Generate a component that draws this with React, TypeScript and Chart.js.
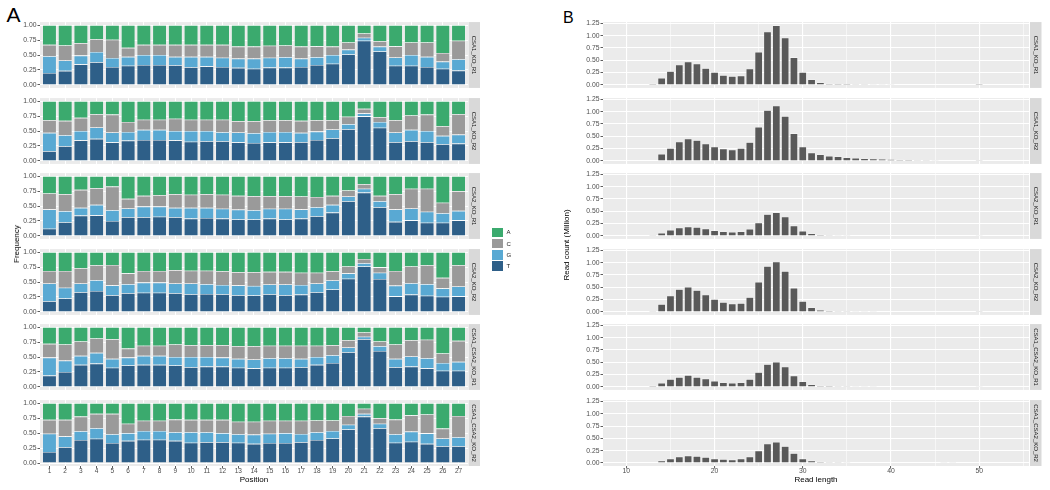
import React, { useEffect, useRef } from "react";
import { Chart, registerables } from "chart.js";
Chart.register(...registerables);

const FONT = '"Liberation Sans", Arial, Helvetica, sans-serif';

// ---------- Panel A data ----------
const positions = [1, 2, 3, 4, 5, 6, 7, 8, 9, 10, 11, 12, 13, 14, 15, 16, 17, 18, 19, 20, 21, 22, 23, 24, 25, 26, 27];
const sampleNames = ["CSA1_KO_R1", "CSA1_KO_R2", "CSA2_KO_R1", "CSA2_KO_R2", "CSA1_CSA2_KO_R1", "CSA1_CSA2_KO_R2"];
const bases = ["A", "C", "G", "T"];
const baseColors = { A: "#3BAA6E", C: "#9A9A9A", G: "#59A9D3", T: "#2E5F88" };

// cumulative boundaries: T, T+G, T+G+C (A fills up to 1)
const ko1r1T = [0.20, 0.235, 0.345, 0.38, 0.30, 0.32, 0.335, 0.335, 0.33, 0.295, 0.31, 0.30, 0.285, 0.27, 0.29, 0.29, 0.30, 0.335, 0.355, 0.51, 0.74, 0.56, 0.32, 0.32, 0.30, 0.27, 0.24];
const ko1r1TG = [0.48, 0.41, 0.49, 0.55, 0.45, 0.47, 0.50, 0.50, 0.47, 0.47, 0.47, 0.455, 0.44, 0.44, 0.455, 0.465, 0.44, 0.465, 0.50, 0.59, 0.79, 0.64, 0.46, 0.50, 0.47, 0.39, 0.43];
const ko1r1TGC = [0.67, 0.66, 0.70, 0.765, 0.755, 0.62, 0.67, 0.67, 0.67, 0.67, 0.67, 0.67, 0.64, 0.64, 0.655, 0.66, 0.64, 0.645, 0.64, 0.71, 0.86, 0.73, 0.645, 0.71, 0.71, 0.535, 0.74];

const ko1r2T = [0.165, 0.245, 0.345, 0.37, 0.31, 0.34, 0.35, 0.35, 0.345, 0.32, 0.33, 0.33, 0.31, 0.30, 0.31, 0.31, 0.315, 0.35, 0.38, 0.53, 0.745, 0.555, 0.315, 0.33, 0.315, 0.28, 0.29];
const ko1r2TG = [0.47, 0.43, 0.50, 0.56, 0.475, 0.485, 0.52, 0.52, 0.50, 0.50, 0.50, 0.48, 0.475, 0.465, 0.485, 0.485, 0.47, 0.49, 0.525, 0.615, 0.795, 0.65, 0.475, 0.52, 0.50, 0.42, 0.44];
const ko1r2TGC = [0.68, 0.67, 0.72, 0.78, 0.775, 0.65, 0.69, 0.69, 0.705, 0.69, 0.69, 0.69, 0.665, 0.665, 0.68, 0.68, 0.67, 0.68, 0.68, 0.74, 0.87, 0.73, 0.68, 0.76, 0.775, 0.58, 0.78];

const ko2r1T = [0.12, 0.23, 0.34, 0.345, 0.25, 0.315, 0.315, 0.32, 0.315, 0.29, 0.30, 0.29, 0.275, 0.275, 0.29, 0.275, 0.29, 0.33, 0.39, 0.58, 0.725, 0.48, 0.235, 0.26, 0.22, 0.22, 0.26];
const ko2r1TG = [0.445, 0.415, 0.47, 0.52, 0.43, 0.46, 0.49, 0.49, 0.47, 0.47, 0.47, 0.455, 0.44, 0.43, 0.455, 0.455, 0.445, 0.48, 0.52, 0.66, 0.79, 0.58, 0.445, 0.46, 0.405, 0.38, 0.42];
const ko2r1TGC = [0.71, 0.70, 0.77, 0.80, 0.825, 0.62, 0.67, 0.68, 0.70, 0.69, 0.70, 0.69, 0.67, 0.665, 0.665, 0.665, 0.66, 0.65, 0.67, 0.76, 0.865, 0.67, 0.70, 0.79, 0.79, 0.555, 0.75];

const ko2r2T = [0.18, 0.225, 0.33, 0.35, 0.28, 0.315, 0.32, 0.32, 0.315, 0.295, 0.30, 0.295, 0.28, 0.275, 0.295, 0.28, 0.29, 0.33, 0.375, 0.555, 0.76, 0.55, 0.26, 0.29, 0.27, 0.255, 0.26];
const ko2r2TG = [0.475, 0.405, 0.475, 0.53, 0.445, 0.465, 0.49, 0.49, 0.475, 0.475, 0.465, 0.45, 0.445, 0.435, 0.46, 0.46, 0.45, 0.475, 0.525, 0.645, 0.815, 0.655, 0.44, 0.48, 0.465, 0.395, 0.425];
const ko2r2TGC = [0.685, 0.685, 0.73, 0.78, 0.785, 0.645, 0.685, 0.685, 0.70, 0.69, 0.69, 0.68, 0.665, 0.665, 0.67, 0.67, 0.655, 0.655, 0.68, 0.76, 0.885, 0.745, 0.685, 0.76, 0.78, 0.57, 0.78];

const dkr1T = [0.19, 0.25, 0.37, 0.39, 0.32, 0.36, 0.37, 0.37, 0.36, 0.33, 0.34, 0.34, 0.32, 0.31, 0.32, 0.32, 0.33, 0.37, 0.40, 0.58, 0.80, 0.60, 0.33, 0.34, 0.31, 0.27, 0.27];
const dkr1TG = [0.49, 0.44, 0.52, 0.57, 0.47, 0.49, 0.52, 0.52, 0.50, 0.50, 0.50, 0.49, 0.47, 0.46, 0.48, 0.48, 0.47, 0.50, 0.53, 0.66, 0.84, 0.68, 0.47, 0.51, 0.48, 0.40, 0.42];
const dkr1TGC = [0.72, 0.71, 0.76, 0.81, 0.80, 0.64, 0.69, 0.69, 0.71, 0.70, 0.70, 0.70, 0.68, 0.68, 0.69, 0.69, 0.69, 0.69, 0.70, 0.78, 0.91, 0.76, 0.71, 0.78, 0.79, 0.56, 0.77];

const dkr2T = [0.185, 0.265, 0.385, 0.405, 0.335, 0.37, 0.39, 0.39, 0.37, 0.34, 0.35, 0.35, 0.34, 0.32, 0.335, 0.335, 0.35, 0.385, 0.41, 0.56, 0.775, 0.58, 0.34, 0.355, 0.32, 0.28, 0.28];
const dkr2TG = [0.49, 0.445, 0.53, 0.58, 0.48, 0.50, 0.535, 0.535, 0.515, 0.515, 0.515, 0.50, 0.48, 0.475, 0.49, 0.50, 0.485, 0.515, 0.535, 0.64, 0.82, 0.655, 0.48, 0.525, 0.495, 0.41, 0.43];
const dkr2TGC = [0.72, 0.72, 0.775, 0.82, 0.82, 0.655, 0.705, 0.705, 0.725, 0.72, 0.72, 0.72, 0.69, 0.69, 0.705, 0.705, 0.705, 0.71, 0.71, 0.785, 0.905, 0.75, 0.725, 0.795, 0.81, 0.575, 0.785];

const freqFacets = [
  { T: ko1r1T, TG: ko1r1TG, TGC: ko1r1TGC },
  { T: ko1r2T, TG: ko1r2TG, TGC: ko1r2TGC },
  { T: ko2r1T, TG: ko2r1TG, TGC: ko2r1TGC },
  { T: ko2r2T, TG: ko2r2TG, TGC: ko2r2TGC },
  { T: dkr1T, TG: dkr1TG, TGC: dkr1TGC },
  { T: dkr2T, TG: dkr2TG, TGC: dkr2TGC },
];
const freqTicks = [0, 0.125, 0.25, 0.375, 0.5, 0.625, 0.75, 0.875, 1];

// ---------- Panel B data (read count, millions) ----------
const readLengths = [13, 14, 15, 16, 17, 18, 19, 20, 21, 22, 23, 24, 25, 26, 27, 28, 29, 30, 31, 32, 33, 34, 35, 36, 37, 38, 39, 40, 41, 42, 43, 44, 45, 46, 47, 48, 49, 50];
const countsKo1r1 = [0.03, 0.14, 0.28, 0.41, 0.47, 0.43, 0.34, 0.26, 0.20, 0.18, 0.19, 0.33, 0.67, 1.08, 1.21, 0.96, 0.56, 0.26, 0.11, 0.05, 0.03, 0.025, 0.022, 0.02, 0.018, 0.016, 0.014, 0.012, 0.011, 0.01, 0.009, 0.008, 0.007, 0.006, 0.005, 0, 0, 0.03];
const countsKo1r2 = [0.01, 0.14, 0.26, 0.39, 0.45, 0.42, 0.35, 0.29, 0.25, 0.23, 0.26, 0.38, 0.69, 1.03, 1.12, 0.91, 0.56, 0.29, 0.17, 0.13, 0.10, 0.09, 0.07, 0.06, 0.05, 0.045, 0.04, 0.035, 0.03, 0.025, 0.02, 0.017, 0.014, 0.01, 0.008, 0.005, 0, 0.02];
const countsKo2r1 = [0.02, 0.06, 0.12, 0.17, 0.19, 0.18, 0.15, 0.11, 0.09, 0.08, 0.09, 0.14, 0.27, 0.44, 0.48, 0.39, 0.21, 0.10, 0.05, 0.03, 0.02, 0.015, 0.012, 0.01, 0.009, 0.008, 0.007, 0.006, 0.005, 0.005, 0.004, 0.004, 0.003, 0.003, 0.002, 0, 0, 0.015];
const countsKo2r2 = [0.02, 0.16, 0.33, 0.46, 0.51, 0.44, 0.35, 0.26, 0.20, 0.17, 0.18, 0.30, 0.61, 0.93, 1.02, 0.83, 0.49, 0.22, 0.09, 0.04, 0.03, 0.02, 0.018, 0.016, 0.014, 0.012, 0.011, 0.01, 0.009, 0.008, 0.007, 0.006, 0.005, 0.004, 0.003, 0, 0, 0.02];
const countsDkr1 = [0.03, 0.08, 0.16, 0.20, 0.24, 0.20, 0.17, 0.12, 0.09, 0.08, 0.09, 0.16, 0.30, 0.46, 0.51, 0.41, 0.23, 0.11, 0.05, 0.03, 0.025, 0.02, 0.018, 0.016, 0.014, 0.012, 0.011, 0.01, 0.009, 0.008, 0.007, 0.006, 0.005, 0.004, 0.003, 0, 0, 0.015];
const countsDkr2 = [0.01, 0.05, 0.09, 0.13, 0.15, 0.14, 0.12, 0.09, 0.08, 0.07, 0.09, 0.13, 0.25, 0.39, 0.43, 0.34, 0.20, 0.09, 0.05, 0.03, 0.02, 0.018, 0.016, 0.014, 0.012, 0.011, 0.01, 0.009, 0.008, 0.007, 0.006, 0.005, 0.005, 0.004, 0.003, 0, 0, 0.01];
const countFacets = [countsKo1r1, countsKo1r2, countsKo2r1, countsKo2r2, countsDkr1, countsDkr2];
const lengthTicks = [10, 15, 20, 25, 30, 35, 40, 45, 50, 55];
const countTicks = [0, 0.125, 0.25, 0.375, 0.5, 0.625, 0.75, 0.875, 1, 1.125, 1.25];

// ---------- layout ----------
const FACET_TOP0 = 22;
const FACET_STEP = 75.5;
const FACET_H = 66;
const PAD = 5;
const XAXIS_H = 16;

const panelBg = {
  id: "panelBg",
  beforeDraw(chart: any) {
    const { ctx, chartArea: a } = chart;
    ctx.save();
    ctx.fillStyle = "#EBEBEB";
    ctx.fillRect(a.left, a.top, a.right - a.left, a.bottom - a.top);
    ctx.restore();
  },
};

const stripPlugin = {
  id: "strip",
  afterDraw(chart: any, _args: any, opts: any) {
    const { ctx, chartArea: a } = chart;
    const x0 = a.right + opts.gap;
    ctx.save();
    ctx.fillStyle = "#D9D9D9";
    ctx.fillRect(x0, a.top, opts.width, a.bottom - a.top);
    ctx.translate(x0 + opts.width / 2, (a.top + a.bottom) / 2);
    ctx.rotate(Math.PI / 2);
    ctx.fillStyle = "#1A1A1A";
    ctx.font = `6px ${FONT}`;
    ctx.textAlign = "center";
    ctx.textBaseline = "middle";
    ctx.fillText(opts.label, 0, 0.5);
    ctx.restore();
  },
};

const isMult = (v: number, step: number) => Math.abs(v / step - Math.round(v / step)) < 1e-6;

function freqConfig(i: number) {
  const f = freqFacets[i];
  const last = i === 5;
  const seg: Record<string, number[]> = {
    T: f.T,
    G: f.TG.map((v, k) => v - f.T[k]),
    C: f.TGC.map((v, k) => v - f.TG[k]),
    A: f.TGC.map((v) => 1 - v),
  };
  const order = ["T", "G", "C", "A"];
  return {
    type: "bar",
    data: {
      datasets: order.map((b) => ({
        label: b,
        data: positions.map((p, k) => ({ x: p, y: seg[b][k] })),
        backgroundColor: (baseColors as any)[b],
        borderColor: "rgba(255,255,255,0.75)",
        borderWidth: 0.6,
        barPercentage: 0.9,
        categoryPercentage: 1,
      })),
    },
    options: {
      animation: false,
      responsive: false,
      events: [],
      layout: { padding: { left: 0, right: 13, top: PAD, bottom: last ? 0 : PAD } },
      plugins: {
        legend: { display: false },
        tooltip: { enabled: false },
        strip: { label: sampleNames[i], gap: 0.5, width: 11.5 },
      },
      scales: {
        x: {
          type: "linear",
          stacked: true,
          offset: false,
          min: 0.4,
          max: 27.6,
          afterBuildTicks: (s: any) => {
            s.ticks = positions.map((v) => ({ value: v }));
          },
          afterFit: (s: any) => {
            s.height = last ? XAXIS_H : 0;
          },
          border: { display: false },
          grid: { offset: false, color: "#FFFFFF", lineWidth: 1, drawTicks: last, tickLength: 2.5, tickColor: "#333333", tickWidth: 0.8 },
          ticks: {
            display: last,
            autoSkip: false,
            maxRotation: 0,
            padding: -0.5,
            color: "#4D4D4D",
            font: { family: FONT, size: 6.5, lineHeight: 1 },
            callback: (v: any) => String(v),
          },
        },
        y: {
          stacked: true,
          min: -0.05,
          max: 1.05,
          afterBuildTicks: (s: any) => {
            s.ticks = freqTicks.map((v) => ({ value: v }));
          },
          afterFit: (s: any) => {
            s.width = 40;
          },
          border: { display: false },
          grid: {
            color: "#FFFFFF",
            lineWidth: (c: any) => (c.tick && isMult(c.tick.value, 0.25) ? 1 : 0.5),
            tickColor: (c: any) => (c.tick && isMult(c.tick.value, 0.25) ? "#333333" : "rgba(0,0,0,0)"),
            tickLength: 2.5,
            tickWidth: 0.8,
          },
          ticks: {
            padding: 1,
            color: "#4D4D4D",
            font: { family: FONT, size: 6.8 },
            callback: (v: any) => (isMult(v, 0.25) ? Number(v).toFixed(2) : ""),
          },
        },
      },
    },
    plugins: [panelBg, stripPlugin],
  };
}

function countConfig(i: number) {
  const last = i === 5;
  const counts = countFacets[i];
  return {
    type: "bar",
    data: {
      datasets: [
        {
          label: sampleNames[i],
          data: readLengths.map((x, k) => ({ x, y: counts[k] })),
          backgroundColor: "#595959",
          borderColor: "rgba(255,255,255,0.7)",
          borderWidth: 0.6,
          barPercentage: 0.9,
          categoryPercentage: 1,
        },
      ],
    },
    options: {
      animation: false,
      responsive: false,
      events: [],
      layout: { padding: { left: 0, right: 14, top: PAD, bottom: last ? 0 : PAD } },
      plugins: {
        legend: { display: false },
        tooltip: { enabled: false },
        strip: { label: sampleNames[i], gap: 1, width: 11.5 },
      },
      scales: {
        x: {
          type: "linear",
          offset: false,
          min: 7.35,
          max: 55.65,
          afterBuildTicks: (s: any) => {
            s.ticks = lengthTicks.map((v) => ({ value: v }));
          },
          afterFit: (s: any) => {
            s.height = last ? XAXIS_H : 0;
          },
          border: { display: false },
          grid: {
            offset: false,
            color: "#FFFFFF",
            lineWidth: (c: any) => (c.tick && isMult(c.tick.value, 10) ? 1.1 : 0.55),
            drawTicks: last,
            tickLength: 2.5,
            tickColor: (c: any) => (c.tick && isMult(c.tick.value, 10) ? "#333333" : "rgba(0,0,0,0)"),
            tickWidth: 0.8,
          },
          ticks: {
            display: last,
            autoSkip: false,
            maxRotation: 0,
            padding: -0.5,
            color: "#4D4D4D",
            font: { family: FONT, size: 6.8, lineHeight: 1 },
            callback: (v: any) => (isMult(v, 10) ? String(v) : ""),
          },
        },
        y: {
          min: -0.061,
          max: 1.276,
          afterBuildTicks: (s: any) => {
            s.ticks = countTicks.map((v) => ({ value: v }));
          },
          afterFit: (s: any) => {
            s.width = 30;
          },
          border: { display: false },
          grid: {
            color: "#FFFFFF",
            lineWidth: (c: any) => (c.tick && isMult(c.tick.value, 0.25) ? 1 : 0.5),
            tickColor: (c: any) => (c.tick && isMult(c.tick.value, 0.25) ? "#333333" : "rgba(0,0,0,0)"),
            tickLength: 2.5,
            tickWidth: 0.8,
          },
          ticks: {
            padding: 1,
            color: "#4D4D4D",
            font: { family: FONT, size: 6.8 },
            callback: (v: any) => (isMult(v, 0.25) ? Number(v).toFixed(2) : ""),
          },
        },
      },
    },
    plugins: [panelBg, stripPlugin],
  };
}

function Facet({ kind, index }: { kind: "freq" | "count"; index: number }) {
  const ref = useRef<HTMLCanvasElement | null>(null);
  const last = index === 5;
  const chartTop = Math.round(FACET_TOP0 + FACET_STEP * index);
  const top = chartTop - PAD;
  const height = PAD + FACET_H + (last ? XAXIS_H : PAD);
  const left = kind === "freq" ? 0 : 573;
  const width = kind === "freq" ? 40 + 428 + 13 : 30 + 426 + 14;
  useEffect(() => {
    if (!ref.current) return;
    const cfg: any = kind === "freq" ? freqConfig(index) : countConfig(index);
    const chart = new Chart(ref.current, cfg);
    return () => chart.destroy();
  }, [kind, index]);
  return (
    <canvas
      ref={ref}
      width={width}
      height={height}
      style={{ position: "absolute", left, top, width, height }}
    />
  );
}

const textBase: React.CSSProperties = {
  position: "absolute",
  fontFamily: FONT,
  whiteSpace: "nowrap",
  lineHeight: 1,
};

export default function App() {
  const idx = [0, 1, 2, 3, 4, 5];
  return (
    <div style={{ position: "absolute", left: 0, top: 0, width: 1050, height: 490, background: "#FFFFFF", overflow: "hidden" }}>
      <div style={{ ...textBase, left: 6.5, top: 4, fontSize: 21, color: "#000" }}>A</div>
      <div style={{ ...textBase, left: 563, top: 10, fontSize: 16, color: "#000" }}>B</div>

      {idx.map((i) => (
        <Facet key={"f" + i} kind="freq" index={i} />
      ))}
      {idx.map((i) => (
        <Facet key={"c" + i} kind="count" index={i} />
      ))}

      <div style={{ ...textBase, left: 17, top: 244, fontSize: 8, color: "#000", transform: "translate(-50%, -50%) rotate(-90deg)" }}>Frequency</div>
      <div style={{ ...textBase, left: 254, top: 479.5, fontSize: 8, color: "#000", transform: "translate(-50%, -50%)" }}>Position</div>
      <div style={{ ...textBase, left: 567, top: 245, fontSize: 8, color: "#000", transform: "translate(-50%, -50%) rotate(-90deg)" }}>Read count (Million)</div>
      <div style={{ ...textBase, left: 816, top: 479.5, fontSize: 8, color: "#000", transform: "translate(-50%, -50%)" }}>Read length</div>

      {bases.map((b, k) => (
        <React.Fragment key={b}>
          <div
            style={{
              position: "absolute",
              left: 492,
              top: 227.7 + k * 11.2,
              width: 11,
              height: 9.5,
              background: (baseColors as any)[b],
            }}
          />
          <div style={{ ...textBase, left: 506.5, top: 232.4 + k * 11.2, fontSize: 6, color: "#1A1A1A", transform: "translateY(-50%)" }}>{b}</div>
        </React.Fragment>
      ))}
    </div>
  );
}
